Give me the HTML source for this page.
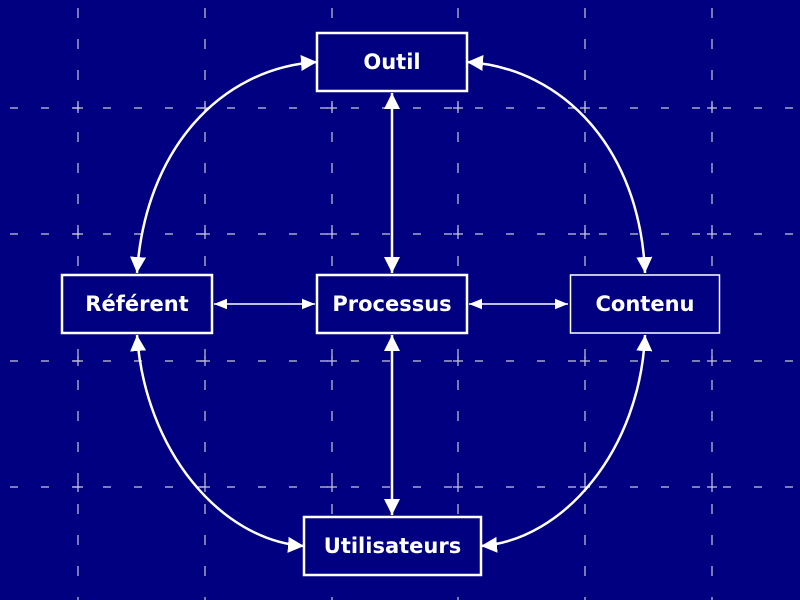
<!DOCTYPE html>
<html><head><meta charset="utf-8"><style>
html,body{margin:0;padding:0;background:#000080;}
svg{display:block}
text{font-family:"DejaVu Sans","Liberation Sans",sans-serif;font-weight:bold;fill:#fff;font-size:21px;text-anchor:middle;dominant-baseline:central}
</style></head><body>
<svg width="800" height="600" viewBox="0 0 800 600" xmlns="http://www.w3.org/2000/svg">
<rect width="800" height="600" fill="#000080"/>
<defs>
<marker id="a" viewBox="0 0 10 10" refX="10" refY="5" markerWidth="16" markerHeight="16" markerUnits="userSpaceOnUse" orient="auto-start-reverse"><path d="M0,0 L10,5 L0,10 z" fill="#fff"/></marker>
<marker id="b" viewBox="0 0 10 10" refX="10" refY="5" markerWidth="13" markerHeight="13" markerUnits="userSpaceOnUse" orient="auto-start-reverse"><path d="M0,1 L10,5 L0,9 z" fill="#fff"/></marker>
<path id="p" d="M-5,0 H5 M0,-5 V5" stroke="#c8c8d8" stroke-width="1.2"/>
</defs>
<g stroke="#c8c8d8" stroke-width="1.2" stroke-dasharray="10 21">
<line x1="78" y1="8" x2="78" y2="600"/><line x1="205" y1="8" x2="205" y2="600"/><line x1="332" y1="8" x2="332" y2="600"/>
<line x1="458" y1="8" x2="458" y2="600"/><line x1="585" y1="8" x2="585" y2="600"/><line x1="712" y1="8" x2="712" y2="600"/>
</g>
<g stroke="#c8c8d8" stroke-width="1.2" stroke-dasharray="8 23">
<line x1="10" y1="108" x2="800" y2="108"/><line x1="10" y1="234" x2="800" y2="234"/><line x1="10" y1="361" x2="800" y2="361"/><line x1="10" y1="487" x2="800" y2="487"/>
</g>
<g>
<use href="#p" x="78" y="108"/><use href="#p" x="205" y="108"/><use href="#p" x="332" y="108"/><use href="#p" x="458" y="108"/><use href="#p" x="585" y="108"/><use href="#p" x="712" y="108"/>
<use href="#p" x="78" y="234"/><use href="#p" x="205" y="234"/><use href="#p" x="332" y="234"/><use href="#p" x="458" y="234"/><use href="#p" x="585" y="234"/><use href="#p" x="712" y="234"/>
<use href="#p" x="78" y="361"/><use href="#p" x="205" y="361"/><use href="#p" x="332" y="361"/><use href="#p" x="458" y="361"/><use href="#p" x="585" y="361"/><use href="#p" x="712" y="361"/>
<use href="#p" x="78" y="487"/><use href="#p" x="205" y="487"/><use href="#p" x="332" y="487"/><use href="#p" x="458" y="487"/><use href="#p" x="585" y="487"/><use href="#p" x="712" y="487"/>
</g>
<g fill="none" stroke="#fff" stroke-width="2.5">
<path d="M317,62 C220,68 145,150 137,273" marker-start="url(#a)" marker-end="url(#a)"/>
<path d="M467,62 C564,68 640,150 645,273" marker-start="url(#a)" marker-end="url(#a)"/>
<path d="M137,335 C145,450 220,540 304,546" marker-start="url(#a)" marker-end="url(#a)"/>
<path d="M645,335 C640,450 564,540 481,546" marker-start="url(#a)" marker-end="url(#a)"/>
<line x1="392" y1="93" x2="392" y2="273" marker-start="url(#a)" marker-end="url(#a)"/>
<line x1="392" y1="335" x2="392" y2="515" marker-start="url(#a)" marker-end="url(#a)"/>
</g>
<g fill="none" stroke="#fff" stroke-width="1.5">
<line x1="214" y1="304" x2="315" y2="304" marker-start="url(#b)" marker-end="url(#b)"/>
<line x1="469" y1="304" x2="568" y2="304" marker-start="url(#b)" marker-end="url(#b)"/>
</g>
<g fill="#000080" stroke="#fff" stroke-width="2.5">
<rect x="317" y="33" width="150" height="58"/>
<rect x="62" y="275" width="150" height="58"/>
<rect x="317" y="275" width="150" height="58"/>
<rect x="570.5" y="275" width="149" height="58" stroke-width="1.5"/>
<rect x="304" y="517" width="177" height="58"/>
</g>
<text x="392" y="62">Outil</text>
<text x="137" y="304">Référent</text>
<text x="392" y="304">Processus</text>
<text x="645" y="304">Contenu</text>
<text x="392.5" y="546">Utilisateurs</text>
</svg>
</body></html>
